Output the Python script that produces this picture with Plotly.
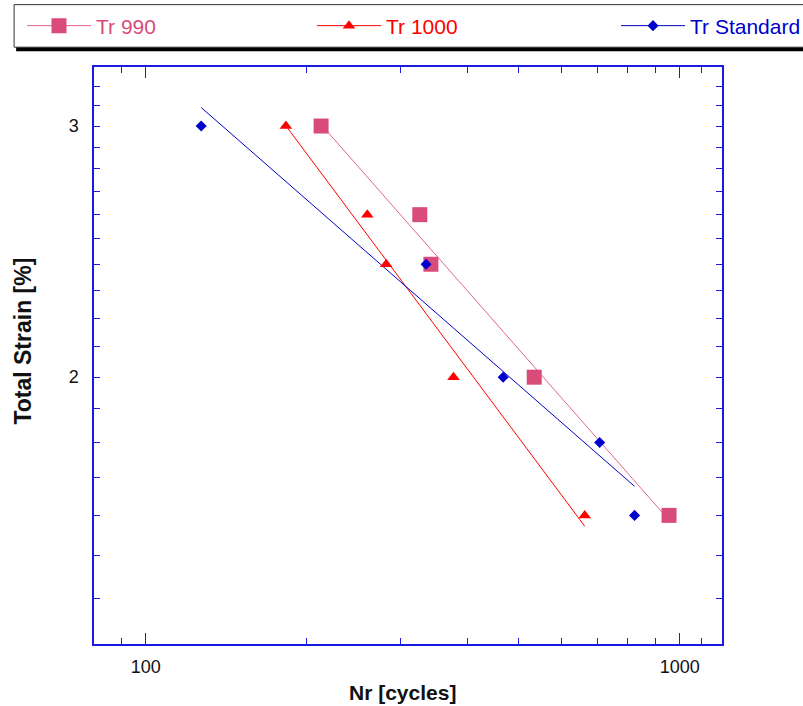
import numpy as np
import plotly.graph_objects as go

# ---- data ----
tr990_n = [213, 326, 342, 534, 955]
tr990_strain = [3.0, 2.6, 2.4, 2.0, 1.6]

tr1000_n = [183, 260, 282, 377, 664]
tr1000_strain = [3.0, 2.6, 2.4, 2.0, 1.6]

trstd_n = [127, 335, 467, 708, 823]
trstd_strain = [3.0, 2.4, 2.0, 1.8, 1.6]

series_names = ["Tr 990", "Tr 1000", "Tr Standard"]

x_major_ticks = [100, 1000]
x_major_labels = ["100", "1000"]
x_minor_ticks = [90, 200, 300, 400, 500, 600, 700, 800, 900, 1100]
y_ticks = [1.4, 1.5, 1.6, 1.7, 1.8, 1.9, 2.0, 2.1, 2.2, 2.3, 2.4, 2.5, 2.6,
           2.7, 2.8, 2.9, 3.0, 3.1, 3.2]
y_labels = ["" if v not in (2.0, 3.0) else str(int(v)) for v in y_ticks]

x_title = "Nr [cycles]"
y_title = "Total Strain [%]"

# ---- styles ----
PINK = "#d94c7a"
PINK_LINE = "#e0668f"
RED = "#ff0000"
BLUE = "#0000cc"
AXIS = "#1a1ae0"
FONT = "Liberation Sans, Arial, sans-serif"

W, H = 803, 706
# plot area in page pixels: left 94.3, top 67.3, right 721.7, bottom 643.7
L, T = 94.3, 67.3
R, B = W - 721.7, H - 643.7
PW, PH = W - L - R, H - T - B


def px_x(px):
    return (px - L) / PW


def px_y(py):
    return (H - B - py) / PH


def fit_line(n, s):
    ln, ls = np.log10(n), np.log10(s)
    k, c = np.polyfit(ln, ls, 1)
    xs = np.array([min(n), max(n)])
    return xs, 10 ** (c + k * np.log10(xs))


fig = go.Figure()

# fitted power-law lines
for n, s, col in [(tr990_n, tr990_strain, PINK_LINE),
                  (tr1000_n, tr1000_strain, RED),
                  (trstd_n, trstd_strain, BLUE)]:
    fx, fy = fit_line(n, s)
    fig.add_trace(go.Scatter(x=fx, y=fy, mode="lines", showlegend=False,
                             line=dict(color=col, width=1), hoverinfo="skip"))

# data markers
fig.add_trace(go.Scatter(x=tr990_n, y=tr990_strain, mode="markers", showlegend=False,
                         marker=dict(symbol="square", size=15, color=PINK)))
fig.add_trace(go.Scatter(x=tr1000_n, y=tr1000_strain, mode="markers", showlegend=False,
                         marker=dict(symbol="triangle-up", size=11, color=RED)))
fig.add_trace(go.Scatter(x=trstd_n, y=trstd_strain, mode="markers", showlegend=False,
                         marker=dict(symbol="diamond", size=8.5, color=BLUE)))

# legend entries (one legend per series so each text keeps its colour)
legend_specs = [
    (series_names[0], PINK, "square", 15, PINK_LINE, "legend", 22),
    (series_names[1], RED, "triangle-up", 11, RED, "legend2", 312),
    (series_names[2], BLUE, "diamond", 8.5, BLUE, "legend3", 616),
]
for name, col, sym, size, lcol, leg, _ in legend_specs:
    fig.add_trace(go.Scatter(x=[None], y=[None], mode="lines+markers", name=name,
                             legend=leg, line=dict(color=lcol, width=1),
                             marker=dict(symbol=sym, size=size, color=col)))

legend_layouts = {}
for name, col, sym, size, lcol, leg, xpx in legend_specs:
    legend_layouts[leg] = dict(
        x=xpx / W, xref="container", xanchor="left",
        y=1 - 26 / H, yref="container", yanchor="middle",
        orientation="h", bgcolor="rgba(0,0,0,0)", borderwidth=0,
        itemwidth=64, font=dict(family=FONT, size=21, color=col),
    )

# legend frame with shadow
shapes = [
    dict(type="rect", xref="paper", yref="paper",
         x0=px_x(16.5), x1=px_x(840), y0=px_y(51.5), y1=px_y(8),
         fillcolor="black", line=dict(width=0), layer="below"),
    dict(type="rect", xref="paper", yref="paper",
         x0=px_x(14.5), x1=px_x(836), y0=px_y(47.5), y1=px_y(5),
         fillcolor="white", line=dict(color="#333333", width=1), layer="below"),
]

annotations = [
    dict(text="<b>%s</b>" % x_title, xref="paper", yref="paper",
         x=px_x(403), y=px_y(692), xanchor="center", yanchor="middle",
         showarrow=False, font=dict(family=FONT, size=21, color="#111111")),
    dict(text="<b>%s</b>" % y_title, xref="paper", yref="paper",
         x=px_x(23), y=px_y(341), xanchor="center", yanchor="middle",
         textangle=-90, showarrow=False,
         font=dict(family=FONT, size=23, color="#111111")),
]

axis_common = dict(
    type="log", showgrid=False, zeroline=False, showline=True,
    linecolor=AXIS, linewidth=1.5, mirror="allticks", ticks="inside",
    tickcolor=AXIS, tickwidth=1,
    tickfont=dict(family=FONT, size=18, color="#111111"),
)

fig.update_layout(
    width=W, height=H, paper_bgcolor="white", plot_bgcolor="white",
    margin=dict(l=L, r=R, t=T, b=B, autoexpand=False),
    xaxis=dict(
        **axis_common, range=[np.log10(80), np.log10(1200)],
        tickmode="array", tickvals=x_major_ticks, ticktext=x_major_labels, ticklen=11,
        minor=dict(tickmode="array", tickvals=x_minor_ticks, ticklen=6,
                   tickcolor=AXIS, ticks="inside"),
        ticklabelstandoff=6,
    ),
    yaxis=dict(
        **axis_common, range=[np.log10(1.3), np.log10(3.3)],
        tickmode="array", tickvals=y_ticks, ticktext=y_labels, ticklen=6,
        ticklabelstandoff=10,
    ),
    shapes=shapes,
    annotations=annotations,
    **legend_layouts,
)

fig.write_html("out.html",
               config={"displayModeBar": False},
               post_script="document.body.style.margin='0px';"
                           "document.body.style.overflow='hidden';")
